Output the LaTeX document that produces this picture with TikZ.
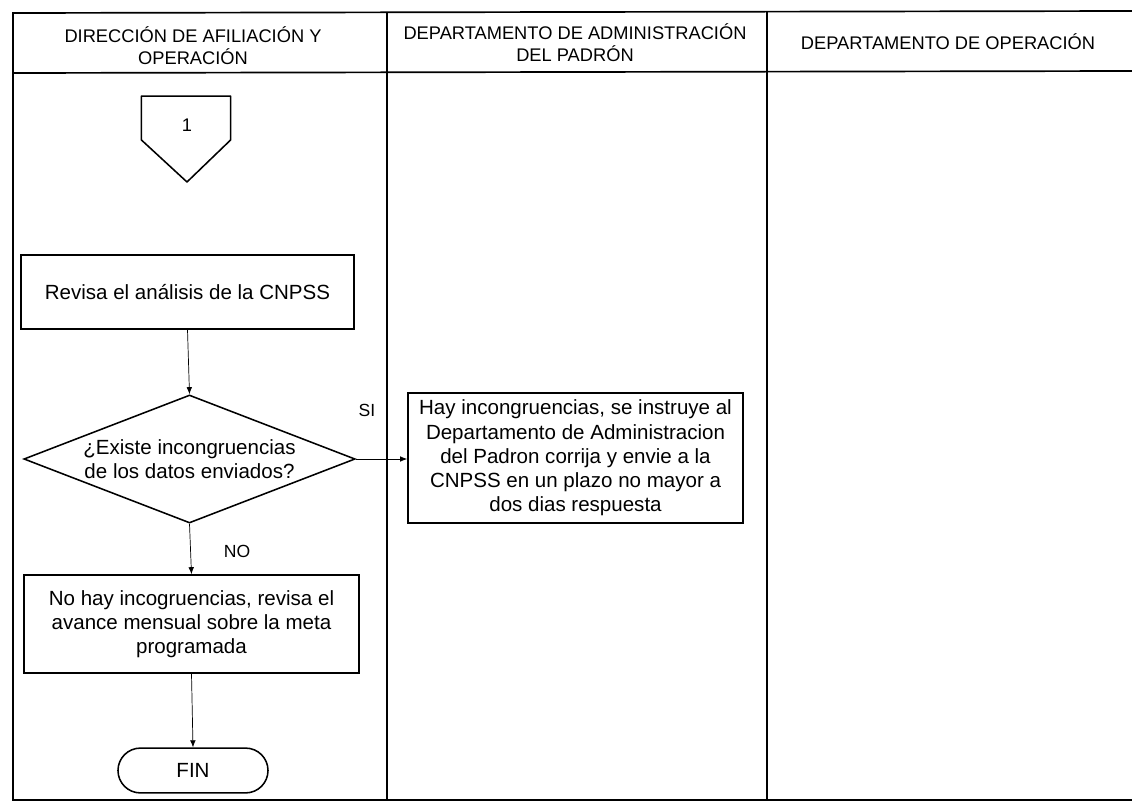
\documentclass[tikz,border=0pt]{standalone}
\usepackage{fontspec}
\setmainfont{Liberation Sans}
\usetikzlibrary{positioning}
\usetikzlibrary{shapes.geometric}
\usetikzlibrary{arrows.meta}
\tikzset{
    lanetitle/.style={
        font=\fontsize{13}{15.5}\selectfont,
        align=center,
        inner sep=1pt
    },
    procbox/.style={
        draw,
        line width=1.1pt,
        font=\fontsize{14.6}{17.2}\selectfont,
        align=center,
        inner sep=2pt
    },
    decision/.style={
        draw,
        diamond,
        aspect=2.6,
        line width=1.1pt,
        font=\fontsize{14.6}{17.2}\selectfont,
        align=center,
        inner sep=0pt,
        minimum width=8.28cm,
        minimum height=3.2cm
    },
    flowarrow/.style={
        -{Latex[length=5pt,width=4pt]},
        line width=0.5pt
    },
    lanerule/.style={line width=1.2pt},
    flowlabel/.style={font=\fontsize{12.5}{14}\selectfont, inner sep=1pt}
}

\begin{document}
\begin{tikzpicture}[x=0.025cm,y=-0.025cm]
\useasboundingbox (0,0) rectangle (1132,802);

% carriles
\draw[lanerule] (1132,11) -- (13,13) -- (13,800) -- (1132,800);
\draw[lanerule] (13,73) -- (1132,71);
\draw[lanerule] (387,12) -- (387,800);
\draw[lanerule] (767,11) -- (767,800);

\node[lanetitle] (laneA) at (193,46) {DIRECCIÓN DE AFILIACIÓN Y\\OPERACIÓN};
\node[lanetitle] (laneB) at (575,43) {DEPARTAMENTO DE ADMINISTRACIÓN\\DEL PADRÓN};
\node[lanetitle] (laneC) at (948,42) {DEPARTAMENTO DE OPERACIÓN};

% conector de pagina
\node[minimum width=2.22cm, minimum height=1.08cm, inner sep=0pt] (conn) at (186,118) {};
\node[font=\fontsize{13}{16}\selectfont, inner sep=0pt] (connlabel) at (187,125) {1};
\coordinate (conntip) at (187,182);
\draw[line width=1.1pt, line join=round]
    (conn.north west) -- (conn.north east) -- (conn.south east)
    -- (conntip) -- (conn.south west) -- cycle;

% nodos
\node[procbox, minimum width=8.33cm, minimum height=1.85cm] (revisa) at (187.5,292)
    {Revisa el análisis de la CNPSS};
\node[decision] (existe) at (189.5,459)
    {¿Existe incongruencias\\de los datos enviados?};
\node[procbox, minimum width=8.38cm, minimum height=3.25cm] (hay) at (575.5,458)
    {Hay incongruencias, se instruye al\\Departamento de Administracion\\del Padron corrija y envie a la\\CNPSS en un plazo no mayor a\\dos dias respuesta};
\node[procbox, minimum width=8.38cm, minimum height=2.45cm] (nohay) at (191.5,624)
    {No hay incogruencias, revisa el\\avance mensual sobre la meta\\programada};
\node[procbox, rounded corners=0.56cm, minimum width=3.75cm, minimum height=1.12cm] (fin) at (193,770.5)
    {FIN};

% flechas + etiquetas
\draw[flowarrow] (revisa.south) -- (existe.north);
\draw[flowarrow] (existe.east) -- (existe.east -| hay.west);
\draw[flowarrow] (existe.south) -- (nohay.north);
\draw[flowarrow] (nohay.south) -- (fin.north);
\node[flowlabel] (si) at (367,410) {SI};
\node[flowlabel] (no) at (237,551) {NO};
\end{tikzpicture}
\end{document}
